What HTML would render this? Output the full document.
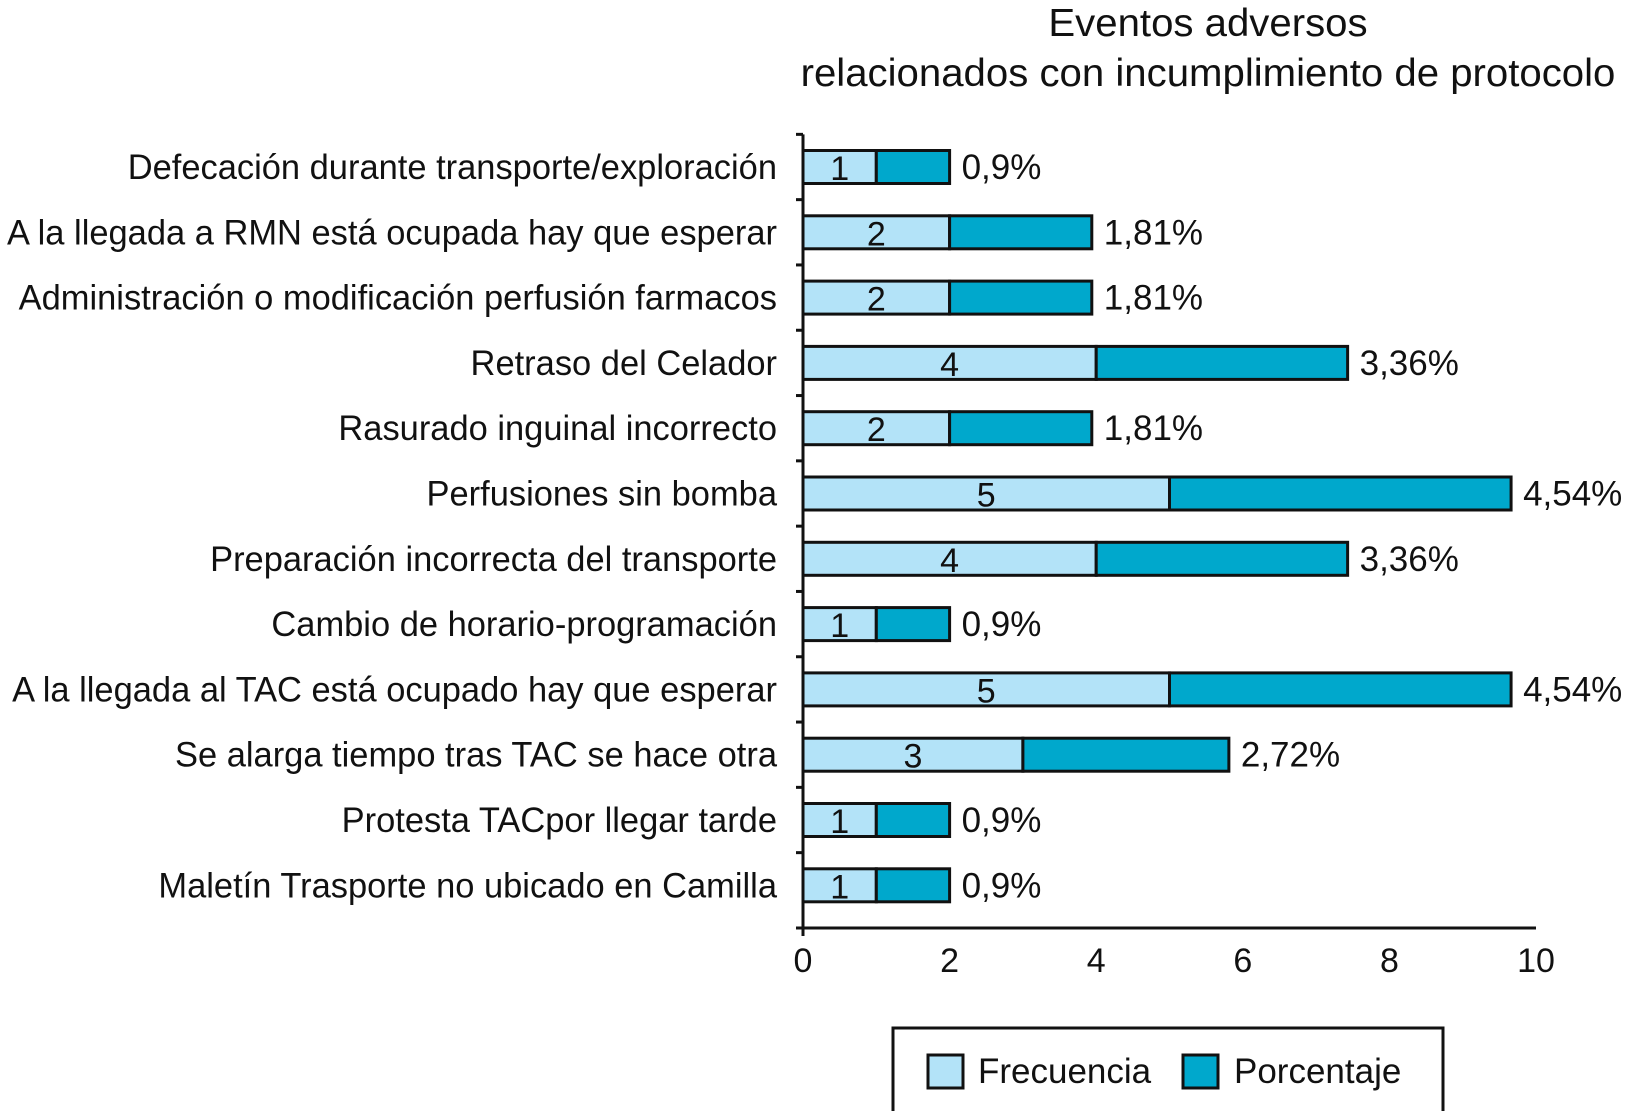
<!DOCTYPE html>
<html><head><meta charset="utf-8"><style>
html,body{margin:0;padding:0;background:#fff;}
svg{display:block;font-family:"Liberation Sans",Arial,sans-serif;}
</style></head><body>
<svg id="chart" width="1636" height="1111" viewBox="0 0 1636 1111" xmlns="http://www.w3.org/2000/svg">
<g>
<text x="1208" y="36" font-size="39" text-anchor="middle" fill="#111" transform="translate(1208,0) scale(1.03,1) translate(-1208,0)">Eventos adversos</text>
<text x="1208" y="86" font-size="39" text-anchor="middle" fill="#111" transform="translate(1208,0) scale(1.03,1) translate(-1208,0)">relacionados con incumplimiento de protocolo</text>
</g>
<g id="bars"></g>
<g id="axes"></g>
<g>
<rect x="893" y="1028" width="550" height="90" fill="#fff" stroke="#111" stroke-width="3"/>
<rect x="928" y="1055" width="35" height="33" fill="#b3e3f8" stroke="#111" stroke-width="3"/>
<text x="978" y="1083" font-size="35" fill="#111">Frecuencia</text>
<rect x="1183" y="1055" width="35" height="33" fill="#00a8cc" stroke="#111" stroke-width="3"/>
<text x="1234" y="1083" font-size="35" fill="#111">Porcentaje</text>
</g>
</svg>
<script>
const categories = ["Defecación durante transporte/exploración","A la llegada a RMN está ocupada hay que esperar","Administración o modificación perfusión farmacos","Retraso del Celador","Rasurado inguinal incorrecto","Perfusiones sin bomba","Preparación incorrecta del transporte","Cambio de horario-programación","A la llegada al TAC está ocupado hay que esperar","Se alarga tiempo tras TAC se hace otra","Protesta TACpor llegar tarde","Maletín Trasporte no ubicado en Camilla"];
const frecuencia = [1,2,2,4,2,5,4,1,5,3,1,1];
const porcentaje = [1.0,1.94,1.94,3.43,1.94,4.66,3.43,1.0,4.66,2.81,1.0,1.0];
const pctLabels = ["0,9%","1,81%","1,81%","3,36%","1,81%","4,54%","3,36%","0,9%","4,54%","2,72%","0,9%","0,9%"];
const xTicks = [0,2,4,6,8,10];

const NS = "http://www.w3.org/2000/svg";
const X0 = 803, X1 = 1536, XMAX = 10;
const xs = v => X0 + v / XMAX * (X1 - X0);
const Y0 = 167, STEP = 65.3, BH = 33;
const yc = i => Y0 + i * STEP;
function mk(tag, attrs, parent) { const e = document.createElementNS(NS, tag); for (const k in attrs) e.setAttribute(k, attrs[k]); parent.appendChild(e); return e; }
const bars = document.getElementById("bars"), axes = document.getElementById("axes");

categories.forEach((c, i) => {
  const y = yc(i);
  const lab = mk("text", {x: 0, y: 0, "font-size": 35, "text-anchor": "end", fill: "#111", transform: "translate(777," + (y + 12) + ") scale(0.985,1)"}, axes);
  lab.textContent = c;
  
  
  const r1 = mk("rect", {x: xs(0), y: y - BH/2, width: xs(frecuencia[i]) - xs(0), height: BH, fill: "#b3e3f8", stroke: "#111", "stroke-width": 3}, bars);
  
  
  const r2 = mk("rect", {x: xs(frecuencia[i]), y: y - BH/2, width: xs(frecuencia[i] + porcentaje[i]) - xs(frecuencia[i]), height: BH, fill: "#00a8cc", stroke: "#111", "stroke-width": 3}, bars);
  
  
  const t1 = mk("text", {x: (xs(0) + xs(frecuencia[i])) / 2, y: y + 13, "font-size": 34, "text-anchor": "middle", fill: "#111"}, bars);
  t1.textContent = frecuencia[i];
  
  
  const t2 = mk("text", {x: xs(frecuencia[i] + porcentaje[i]) + 12, y: y + 12, "font-size": 35, fill: "#111"}, bars);
  t2.textContent = pctLabels[i];
  
  
});

const yTop = yc(0) - STEP/2, yBot = 928;
const ya = mk("line", {x1: X0, y1: yTop, x2: X0, y2: yBot + 8, stroke: "#111", "stroke-width": 3}, axes);


for (let i = 0; i <= categories.length; i++) {
  const ty = i === categories.length ? yBot : yc(i) - STEP/2;
  const tk = mk("line", {x1: X0 - 7, y1: ty, x2: X0, y2: ty, stroke: "#111", "stroke-width": 3}, axes);
  
  
}
const xa = mk("line", {x1: X0, y1: yBot, x2: X1, y2: yBot, stroke: "#111", "stroke-width": 3}, axes);


xTicks.forEach(v => {
  const t = mk("text", {x: xs(v), y: 972, "font-size": 34, "text-anchor": "middle", fill: "#111"}, axes);
  t.textContent = v;
  
  
});
</script>
</body></html>
